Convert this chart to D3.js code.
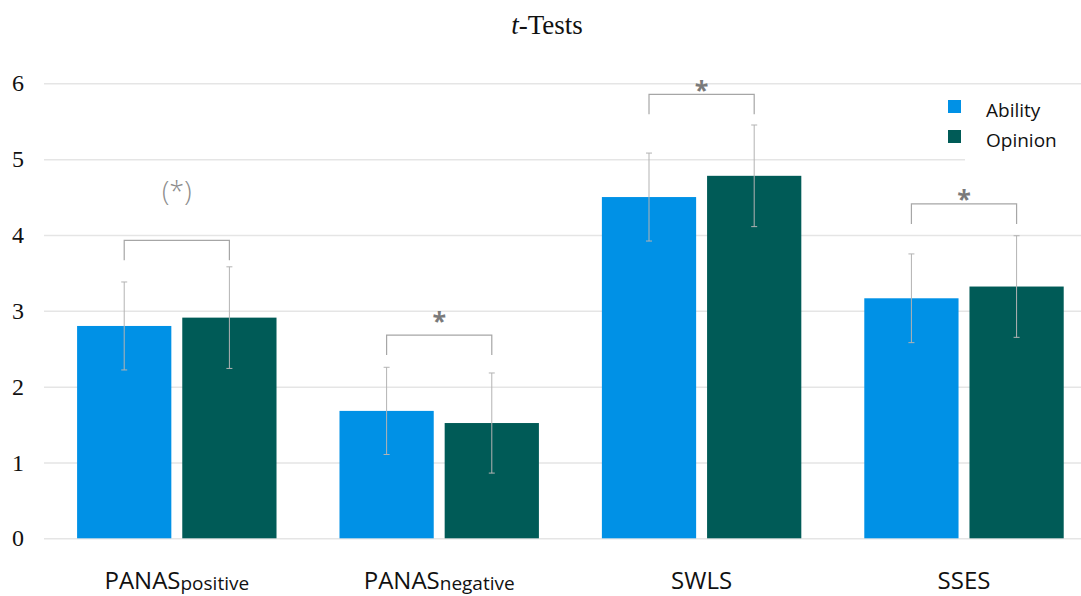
<!DOCTYPE html>
<html>
<head>
<meta charset="utf-8">
<script src="https://cdn.jsdelivr.net/npm/d3@7"></script>
<style>
  html, body { margin: 0; padding: 0; background: #fff; }
  svg { display: block; }
</style>
</head>
<body>
<script>
// ---- data ----
const categories = ["PANAS", "PANAS", "SWLS", "SSES"];
const categorySubs = ["positive", "negative", "", ""];
const seriesNames = ["Ability", "Opinion"];
const seriesColors = ["#0091e6", "#005b57"];
const ability = [2.80, 1.68, 4.50, 3.165];
const opinion = [2.91, 1.52, 4.78, 3.32];
const abilitySD = [0.58, 0.575, 0.58, 0.585];
const opinionSD = [0.67, 0.66, 0.67, 0.67];
const bracketLevel = [3.93, 2.68, 5.855, 4.41];
const sigLabels = ["(*)", "*", "*", "*"];
const sigLabelLevel = [4.57, 2.93, 5.98, 4.54];
const yTicks = [0, 1, 2, 3, 4, 5, 6];

const W = 1081, H = 596;
const svg = d3.select("body").append("svg").attr("width", W).attr("height", H);

const y = d3.scaleLinear().domain([0, 6]).range([538.3, 83.3]);
const x0 = d3.scaleBand().domain(d3.range(categories.length)).range([45.6, 1095.2]).paddingInner(0.24).paddingOuter(0.12);
const x1 = d3.scaleBand().domain(d3.range(seriesNames.length)).range([0, x0.bandwidth()]).paddingInner(0.104);

// gridlines + y labels
const yAxis = d3.axisLeft(y).tickValues(yTicks).tickSize(-(W - 44)).tickPadding(20).tickFormat(d3.format("d"));
const ga = svg.append("g").attr("transform", "translate(44,0)").call(yAxis);
ga.select(".domain").remove();
ga.selectAll(".tick line").attr("stroke", "#e5e5e5").attr("stroke-width", 1.5);
ga.selectAll(".tick text").attr("font-family", "'Liberation Serif', 'Times New Roman', serif")
  .attr("font-size", 24).attr("fill", "#111");

// legend background (covers gridline)
svg.append("rect").attr("x", 965).attr("y", 92).attr("width", 116).attr("height", 72).attr("fill", "#fff");

// bars
const values = [ability, opinion];
const sds = [abilitySD, opinionSD];
const groups = svg.append("g").selectAll("g").data(categories).join("g")
  .attr("transform", (d, i) => `translate(${x0(i)},0)`);

groups.each(function(d, i) {
  const g = d3.select(this);
  seriesNames.forEach((s, j) => {
    const v = values[j][i];
    g.append("rect")
      .attr("x", x1(j)).attr("width", x1.bandwidth())
      .attr("y", y(v)).attr("height", y(0) - y(v))
      .attr("fill", seriesColors[j]);
  });
  // error bars
  seriesNames.forEach((s, j) => {
    const v = values[j][i], sd = sds[j][i];
    const cx = x1(j) + x1.bandwidth() / 2;
    const eb = g.append("g").attr("stroke", "#b3b3b3").attr("stroke-width", 1);
    eb.append("line").attr("x1", cx).attr("x2", cx).attr("y1", y(v + sd)).attr("y2", y(v - sd));
    eb.append("line").attr("x1", cx - 3).attr("x2", cx + 3).attr("y1", y(v + sd)).attr("y2", y(v + sd));
    eb.append("line").attr("x1", cx - 3).attr("x2", cx + 3).attr("y1", y(v - sd)).attr("y2", y(v - sd));
  });
  // significance bracket
  const cxA = x1(0) + x1.bandwidth() / 2, cxB = x1(1) + x1.bandwidth() / 2;
  const top = y(bracketLevel[i]), bot = top + 20;
  g.append("path")
    .attr("d", `M${cxA},${bot}V${top}H${cxB}V${bot}`)
    .attr("fill", "none").attr("stroke", "#a6a6a6").attr("stroke-width", 1.2);
  const lab = sigLabels[i];
  const mid = (cxA + cxB) / 2;
  if (lab === "*") {
    g.append("text").attr("x", mid).attr("y", y(sigLabelLevel[i]) + 14)
      .attr("text-anchor", "middle").attr("font-family", "'Open Sans', sans-serif")
      .attr("font-weight", "bold").attr("font-size", 25).attr("fill", "#7a7a7a").text(lab);
  } else {
    g.append("text").attr("x", mid).attr("y", y(sigLabelLevel[i]) + 9)
      .attr("text-anchor", "middle").attr("font-family", "'Open Sans', sans-serif")
      .attr("font-weight", 300).attr("font-size", 27).attr("fill", "#8c8c8c").text(lab);
  }
});

// x labels
const xl = svg.append("g").selectAll("text").data(categories).join("text")
  .attr("x", (d, i) => x0(i) + x0.bandwidth() / 2)
  .attr("y", 589)
  .attr("text-anchor", "middle")
  .attr("font-family", "'Open Sans', sans-serif")
  .attr("font-size", 24).attr("fill", "#111");
xl.each(function(d, i) {
  const t = d3.select(this);
  t.append("tspan").text(d);
  if (categorySubs[i]) t.append("tspan").attr("font-size", 19).attr("dy", 1).text(categorySubs[i]);
});

// title
const title = svg.append("text").attr("x", 547).attr("y", 34).attr("text-anchor", "middle")
  .attr("font-family", "'Liberation Serif', 'Times New Roman', serif").attr("font-size", 27).attr("fill", "#111");
title.append("tspan").attr("font-style", "italic").text("t");
title.append("tspan").text("-Tests");

// legend
const lg = svg.append("g").selectAll("g").data(seriesNames).join("g")
  .attr("transform", (d, i) => `translate(948,${100 + i * 30})`);
lg.append("rect").attr("width", 13).attr("height", 13).attr("fill", (d, i) => seriesColors[i]);
lg.append("text").attr("x", 38).attr("y", 17).attr("font-family", "'Open Sans', sans-serif")
  .attr("font-size", 19).attr("fill", "#111").text(d => d);
</script>
</body>
</html>
